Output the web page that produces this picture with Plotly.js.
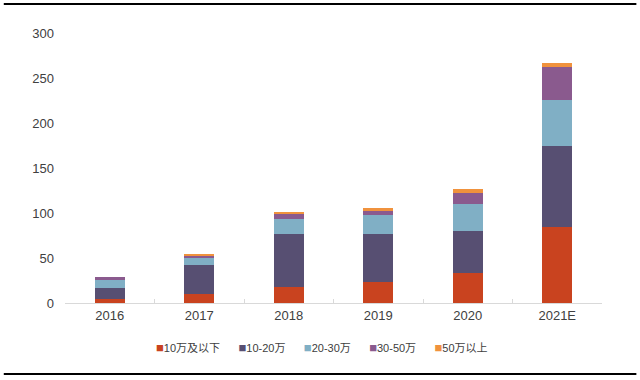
<!DOCTYPE html>
<html>
<head>
<meta charset="utf-8">
<script src="https://cdn.plot.ly/plotly-3.0.1.min.js"></script>
<style>html,body{margin:0;padding:0;background:#fff;}#chart{width:640px;height:380px;}</style>
</head>
<body>
<div id="chart"></div>
<script>
const categories = ['2016', '2017', '2018', '2019', '2020', '2021E'];
const seriesNames = ['10万及以下', '10-20万', '20-30万', '30-50万', '50万以上'];
const s1 = [5, 10, 18, 23, 33.5, 84];
const s2 = [12, 32, 59, 54, 46, 91];
const s3 = [8.5, 7.5, 16.5, 20.5, 31, 50.5];
const s4 = [3, 2.5, 5, 4.5, 11.5, 36.5];
const s5 = [0.5, 2, 2.5, 3.5, 5, 5];
const colors = ['#C9431F', '#574F72', '#80AFC5', '#8A5A8E', '#F0923D'];
const tickVals = [0, 50, 100, 150, 200, 250, 300];

const seriesValues = [s1, s2, s3, s4, s5];
const traces = seriesValues.map((vals, i) => ({
  type: 'bar',
  name: seriesNames[i],
  x: categories,
  y: vals,
  marker: {color: colors[i], line: {width: 0}},
  hoverinfo: 'x+y+name'
}));

const legendText = seriesNames.map((n, i) =>
  '<span style="color:' + colors[i] + ';font-size:13px">■</span>' + n
).join('&nbsp;&nbsp;&nbsp;&nbsp;&nbsp;&nbsp;');

const layout = {
  width: 640,
  height: 380,
  margin: {l: 65, r: 38, t: 33, b: 77},
  barmode: 'stack',
  bargap: 0.67,
  paper_bgcolor: '#fff',
  plot_bgcolor: '#fff',
  font: {family: 'Liberation Sans, Arial, sans-serif', size: 13, color: '#404040'},
  showlegend: false,
  xaxis: {
    type: 'category',
    showline: true,
    linecolor: '#D9D9D9',
    linewidth: 1,
    ticks: 'inside',
    tickson: 'boundaries',
    ticklen: 4,
    tickcolor: '#D9D9D9',
    showgrid: false,
    tickfont: {size: 13, color: '#404040'}
  },
  yaxis: {
    range: [0, 300],
    tickvals: tickVals,
    showgrid: false,
    zeroline: false,
    showline: false,
    ticks: '',
    ticklabelstandoff: 10,
    tickfont: {size: 13, color: '#404040'}
  },
  annotations: [{
    xref: 'paper', yref: 'paper',
    x: 0.4795, y: -0.163,
    xanchor: 'center', yanchor: 'middle',
    showarrow: false,
    text: legendText,
    font: {family: 'Liberation Sans, Noto Sans CJK SC, sans-serif', size: 11, color: '#404040'}
  }],
  shapes: [
    {type: 'line', xref: 'paper', yref: 'paper', x0: -0.114, x1: 1.064, y0: 1.107, y1: 1.107, line: {color: '#000', width: 2}},
    {type: 'line', xref: 'paper', yref: 'paper', x0: -0.114, x1: 1.064, y0: -0.263, y1: -0.263, line: {color: '#000', width: 2}}
  ]
};

Plotly.newPlot('chart', traces, layout, {displayModeBar: false, staticPlot: true});
</script>
</body>
</html>
